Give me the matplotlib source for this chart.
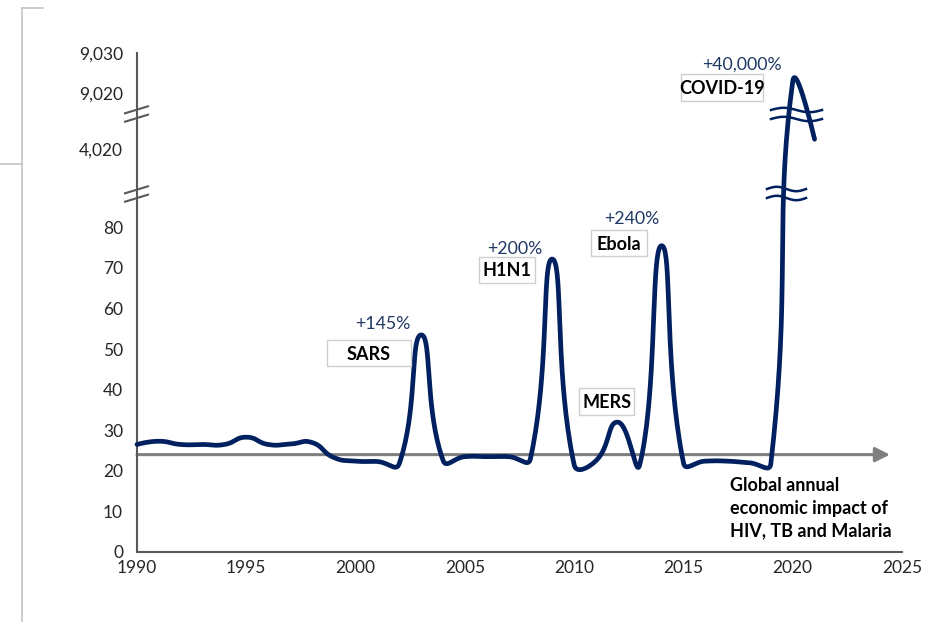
import numpy as np
import matplotlib
matplotlib.use("Agg")
import matplotlib.pyplot as plt
from matplotlib.lines import Line2D
from matplotlib.patches import Rectangle

# ---------------------------------------------------------------- data
years = list(range(1990, 2022))
impact = [26.5, 27.3, 26.5, 26.5, 26.5, 28.3, 26.5, 26.6, 27.0, 23.3,
          22.4, 22.3, 21.8, 53.5, 22.6, 23.5, 23.5, 23.5, 23.0, 72.2,
          21.5, 22.5, 32.0, 21.5, 75.5, 22.0, 22.4, 22.4, 22.0, 21.8,
          9023.0, 4900.0]
baseline = 24  # HIV, TB and Malaria annual impact

ytick_values = [0, 10, 20, 30, 40, 50, 60, 70, 80, 4020, 9020, 9030]
xtick_values = [1990, 1995, 2000, 2005, 2010, 2015, 2020, 2025]

outbreak_names = ["SARS", "H1N1", "MERS", "Ebola", "COVID-19"]
increase_labels = ["+145%", "+200%", "+240%", "+40,000%"]
baseline_label = "Global annual\neconomic impact of\nHIV, TB and Malaria"

# ---------------------------------------------------------------- styles
W, H = 939, 622
FONT = "Lato"
NAVY = "#002060"
AXIS_GREY = "#595959"
ARROW_GREY = "#7f7f7f"
FRAME_GREY = "#c4c4c4"
PCT_BLUE = "#203864"

plt.rcParams["font.family"] = [FONT, "DejaVu Sans"]

# broken value axis: piecewise-linear mapping value -> axis units
SEG_VALUES = np.array([-1000.0, 0, 80, 4020, 9020, 9030, 19030])
SEG_UNITS = np.array([-1000.0, 0, 80, 99.33, 112.98, 122.9, 1122.9])


def fwd(v):
    return np.interp(v, SEG_VALUES, SEG_UNITS)


def inv(u):
    return np.interp(u, SEG_UNITS, SEG_VALUES)


def fx(px):
    return px / W


def fy(py):
    return 1 - py / H


fig = plt.figure(figsize=(W / 100, H / 100), dpi=100)
left, right, top, bottom = 137, 902, 53, 552
ax = fig.add_axes([fx(left), fy(bottom), (right - left) / W, (bottom - top) / H])
ax.set_yscale("function", functions=(fwd, inv))
ax.set_xlim(1990, 2025)
ax.set_ylim(0, 9030.9)

for side in ("top", "right"):
    ax.spines[side].set_visible(False)
for side in ("left", "bottom"):
    ax.spines[side].set_color(AXIS_GREY)
    ax.spines[side].set_linewidth(1.5)

ax.set_xticks(xtick_values)
ax.set_xticklabels([str(v) for v in xtick_values])
ax.set_yticks(ytick_values)
ax.set_yticklabels([f"{v:,}" for v in ytick_values])
ax.minorticks_off()
ax.tick_params(axis="both", length=0, labelsize=12.5, colors="#262626")
ax.tick_params(axis="x", pad=6)
ax.tick_params(axis="y", pad=10)

# baseline arrow
ax.annotate("", xy=(2024.45, baseline), xytext=(1990, baseline),
            arrowprops=dict(arrowstyle="-|>", color=ARROW_GREY, lw=2.2,
                            mutation_scale=22, shrinkA=0, shrinkB=0),
            zorder=2)


# smoothed line (Bezier through points, control arms scaled by segment length)
def smooth_curve(xs, ys, tension=0.5, n=40):
    P = ax.transData.transform(np.column_stack([xs, ys]))
    m = len(P)
    c_after = P.copy()
    c_before = P.copy()
    for i in range(1, m - 1):
        d01 = np.hypot(*(P[i] - P[i - 1]))
        d12 = np.hypot(*(P[i + 1] - P[i]))
        d = P[i + 1] - P[i - 1]
        c_before[i] = P[i] - tension * d01 / (d01 + d12) * d
        c_after[i] = P[i] + tension * d12 / (d01 + d12) * d
    s = np.linspace(0, 1, n)[1:, None]
    pieces = [P[:1]]
    for i in range(m - 1):
        seg = ((1 - s) ** 3 * P[i] + 3 * (1 - s) ** 2 * s * c_after[i]
               + 3 * (1 - s) * s ** 2 * c_before[i + 1] + s ** 3 * P[i + 1])
        pieces.append(seg)
    pts = np.vstack(pieces)
    return ax.transData.inverted().transform(pts)


curve = smooth_curve(years, impact)
ax.plot(curve[:, 0], curve[:, 1], color=NAVY, lw=3.4, solid_capstyle="round",
        solid_joinstyle="round", zorder=3, clip_on=False)

# axis break marks
for cy in (114, 194):
    for off in (-4.2, 4.2):
        fig.add_artist(Line2D([fx(125), fx(148)],
                              [fy(cy + off + 3.5), fy(cy + off - 3.5)],
                              color=AXIS_GREY, lw=1.5))

# wavy break marks across the COVID-19 curve
for (x0, x1, cy) in ((771, 822, 114.5), (767, 806, 193.5)):
    t = np.linspace(0, 1, 60)
    xs = x0 + (x1 - x0) * t
    for off in (-4.5, 4.5):
        ys = cy + off - 2.2 * np.sin(2 * np.pi * t)
        fig.add_artist(Line2D(fx(xs), fy(ys), color=NAVY, lw=1.8))

# outbreak label boxes
boxes = [(327, 340, 411, 366, 369, 354),
         (479, 257, 535, 283, 507, 271),
         (579, 388, 634, 415, 607, 402),
         (591, 230, 647, 256, 619, 244),
         (681, 74, 763, 101, 722, 88)]
for name, (x0, y0, x1, y1, tx, ty) in zip(outbreak_names, boxes):
    fig.add_artist(Rectangle((fx(x0), fy(y1)), (x1 - x0) / W, (y1 - y0) / H,
                             transform=fig.transFigure, facecolor="white",
                             edgecolor="#cfcfcf", lw=1.0, zorder=4))
    fig.text(fx(tx), fy(ty), name, ha="center", va="center", fontsize=13,
             fontweight="bold", color="black", zorder=5)

# percentage increase labels
pct_pos = [(383, 324), (515, 249), (632, 219), (742, 65)]
for lab, (tx, ty) in zip(increase_labels, pct_pos):
    fig.text(fx(tx), fy(ty), lab, ha="center", va="center", fontsize=12.8,
             color=PCT_BLUE)

# baseline caption
fig.text(fx(730), fy(477), baseline_label, ha="left", va="top", fontsize=13,
         fontweight="bold", color="black", linespacing=1.4,
         transform=fig.transFigure)

# outer frame lines
for xs, ys in (([22, 22], [8, 622]), ([22, 43], [8, 8]), ([0, 22], [164, 164])):
    fig.add_artist(Line2D(fx(np.array(xs)), fy(np.array(ys)),
                          color=FRAME_GREY, lw=1.2))

fig.savefig("out.png", dpi=100)
